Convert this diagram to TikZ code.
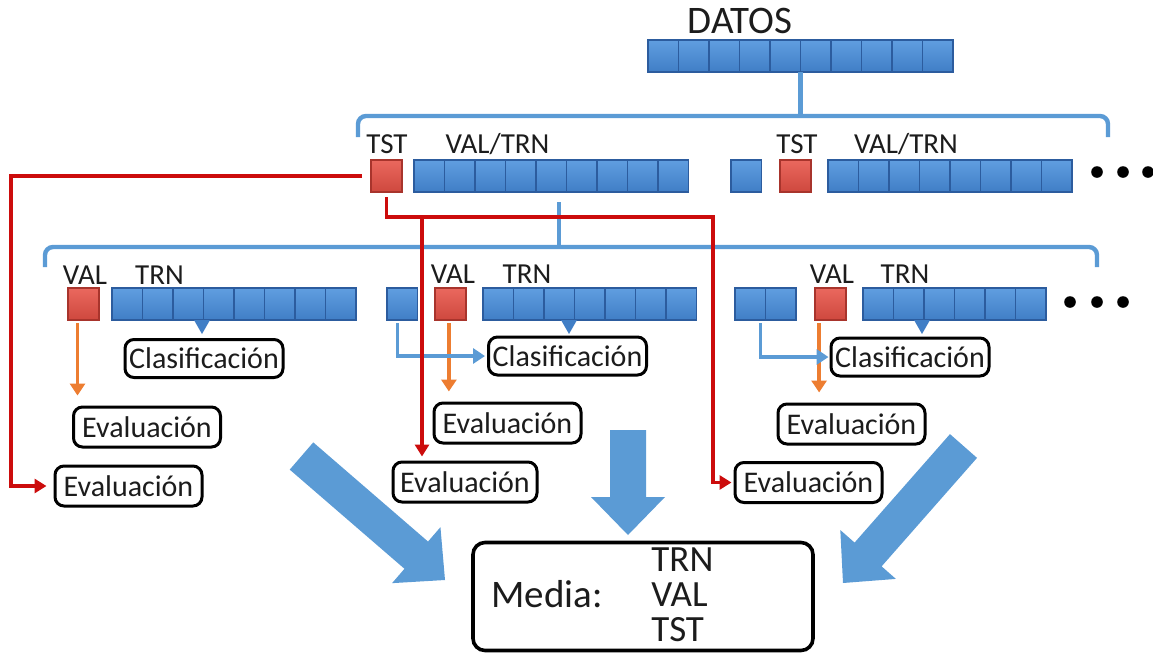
\documentclass[tikz,border=0pt]{standalone}
\usepackage{fontspec}
\setmainfont{Carlito}
\usetikzlibrary{calc,arrows.meta}

\definecolor{celltop}{RGB}{96,158,224}
\definecolor{cellbot}{RGB}{64,126,198}
\definecolor{celledge}{RGB}{44,92,158}
\definecolor{redtop}{RGB}{234,104,94}
\definecolor{redbot}{RGB}{206,72,62}
\definecolor{rededge}{RGB}{168,52,44}
\definecolor{bigblue}{RGB}{91,155,213}
\definecolor{redline}{RGB}{204,12,12}
\definecolor{orangeline}{RGB}{237,125,49}
\definecolor{ink}{RGB}{28,28,28}

% a row of n blue cells, named #1, top-left corner at (#2,#3)
\newcommand\cellbar[4]{%
  \node[cellrow, minimum width={#4*15.25pt}] (#1) at (#2,#3) {};
  \ifnum#4>1
    \foreach \k in {2,...,#4}{%
      \draw[celldiv] ($(#1.north west)+({(\k-1)*15.25pt},0)$) -- ($(#1.south west)+({(\k-1)*15.25pt},0)$);}
  \fi}

% wide block arrow from #1 to the tip #2
\newcommand\fatarrow[2]{%
  \coordinate (fh) at ($(#2)!19pt!(#1)$);
  \fill[bigblue] ($(#1)!9pt!90:(#2)$) -- ($(fh)!9pt!90:(#2)$) -- ($(fh)!18.5pt!90:(#2)$) -- (#2)
    -- ($(fh)!18.5pt!-90:(#2)$) -- ($(fh)!9pt!-90:(#2)$) -- ($(#1)!9pt!-90:(#2)$) -- cycle;}

\begin{document}
\begin{tikzpicture}[x=0.5pt,y=-0.5pt,
  cellrow/.style={draw=celledge, line width=0.6pt, top color=celltop, bottom color=cellbot,
    minimum height=16pt, inner sep=0pt, outer sep=0pt, anchor=north west},
  celldiv/.style={draw=celledge, line width=0.6pt},
  redcell/.style={draw=rededge, line width=0.6pt, top color=redtop, bottom color=redbot,
    minimum width=15.5pt, minimum height=16pt, inner sep=0pt, outer sep=0pt, anchor=north west},
  lbl/.style={text=ink, inner sep=0pt, anchor=base, font=\fontsize{14.5}{16}\selectfont},
  stepbox/.style={draw=black, line width=1.5pt, rounded corners=4.5pt, fill=white, text=ink,
    inner sep=0pt, font=\fontsize{15}{17}\selectfont},
  clbox/.style={stepbox, minimum width=79pt, minimum height=19pt},
  evbox/.style={stepbox, minimum width=73.5pt, minimum height=20pt},
  bracket/.style={draw=bigblue, line width=2.2pt, rounded corners=4pt},
  rarrow/.style={draw=redline, line width=1.8pt, -{Triangle[length=6pt,width=7pt]}},
  oarrow/.style={draw=orangeline, line width=1.7pt, -{Triangle[length=6pt,width=7.5pt]}},
  barrow/.style={draw=bigblue, line width=1.7pt, -{Triangle[length=6pt,width=7.5pt]}},
  dot/.style={fill=black}
]
\useasboundingbox (0,0) rectangle (1153,654);

% ---------- full data set ----------
\node[lbl, font=\fontsize{19.5}{22}\selectfont] (datoslbl) at (740,33) {DATOS};
\cellbar{datos}{648}{40}{10}
\draw[bracket] (358,137) -- (358,116) -- (1108,116) -- (1108,137);
\draw[bracket, rounded corners=0pt] (datos.south) -- ++(0,44);

% ---------- outer folds ----------
\node[redcell] (tst1) at (371,160) {};
\cellbar{vt1}{414}{160}{9}
\cellbar{pre1}{731}{160}{1}
\node[redcell] (tst2) at (780,160) {};
\cellbar{vt2}{828}{160}{8}
\node[lbl] (tstlbl1) at (387,153) {TST};
\node[lbl] (vtlbl1) at (497.5,153) {VAL/TRN};
\node[lbl] (tstlbl2) at (797,153) {TST};
\node[lbl] (vtlbl2) at (906,153) {VAL/TRN};
\foreach \dx in {1097,1123,1148} \fill[dot] (\dx,172) circle (2.9pt);

\draw[bracket] (45,267) -- (45,247) -- (1097,247) -- (1097,267);
\draw[bracket, rounded corners=0pt] (559,202) -- (559,247);

% ---------- inner folds ----------
\node[redcell] (val1) at (68,288) {};
\cellbar{trn1}{112}{288}{8}
\cellbar{pre2}{387}{288}{1}
\node[redcell] (val2) at (435,288) {};
\cellbar{trn2}{483}{288}{7}
\cellbar{pre3}{735}{288}{2}
\node[redcell] (val3) at (815,288) {};
\cellbar{trn3}{863}{288}{6}
\node[lbl] (vallbl1) at (85,284) {VAL};
\node[lbl] (trnlbl1) at (159.5,284) {TRN};
\node[lbl] (vallbl2) at (453,283) {VAL};
\node[lbl] (trnlbl2) at (527,283) {TRN};
\node[lbl] (vallbl3) at (832,283) {VAL};
\node[lbl] (trnlbl3) at (905,283) {TRN};
\foreach \dx in {1070,1097,1123} \fill[dot] (\dx,302) circle (2.9pt);

% small pointers under the training cells
\foreach \px in {202,569,922} \fill[cellbot] (\px-8,320) -- (\px+8,320) -- (\px,334) -- cycle;

% ---------- classification and evaluation ----------
\node[clbox] (cl1) at (204,358.5) {Clasificación};
\node[clbox] (cl2) at (567.5,356) {Clasificación};
\node[clbox] (cl3) at (910,357) {Clasificación};

\node[evbox] (ev1) at (147,427) {Evaluación};
\node[evbox] (ev2) at (507.5,423) {Evaluación};
\node[evbox] (ev3) at (851.5,424) {Evaluación};
\node[evbox] (evL) at (128.5,486) {Evaluación};
\node[evbox, minimum width=72pt] (evM) at (465,482) {Evaluación};
\node[evbox] (evR) at (808.5,482.5) {Evaluación};

% validation cells to their evaluation
\coordinate (o1) at ([xshift=-3pt]val1.south);
\coordinate (o2) at ([xshift=-0.8pt]val2.south);
\coordinate (o3) at ([xshift=-5.7pt]val3.south);
\draw[oarrow, shorten <=1.5pt, shorten >=5pt] (o1) -- (o1 |- ev1.north);
\draw[oarrow, shorten <=1.5pt, shorten >=5pt] (o2) -- (o2 |- ev2.north);
\draw[oarrow, shorten <=1.5pt, shorten >=5pt] (o3) -- (o3 |- ev3.north);

% leading training cells joining the classifier
\coordinate (p2) at ([xshift=-2.5pt]pre2.south);
\coordinate (p3) at ([xshift=-2.5pt]pre3.south);
\draw[barrow, shorten <=1.5pt, shorten >=1pt] (p2) |- (cl2.west);
\draw[barrow, shorten <=1.5pt, shorten >=0.5pt] (p3) |- (cl3.west);

% test cell to the final evaluations
\coordinate (rl) at (11,300);
\coordinate (rj) at (422,217);
\coordinate (rk) at (713,217);
\draw[rarrow, shorten <=4.5pt, shorten >=3.5pt] (tst1.west) -| (rl) |- (evL.west);
\draw[rarrow, shorten <=2.5pt, shorten >=1pt] (tst1.south) |- (rk) |- (evR.west);
\draw[rarrow, shorten >=2pt] (rj) -- (rj |- evM.north);

% ---------- averaging ----------
\coordinate (fa1s) at (301.5,456); \coordinate (fa1t) at (445,580);
\coordinate (fa2s) at (628,430);   \coordinate (fa2t) at (628,535);
\coordinate (fa3s) at (963.5,446); \coordinate (fa3t) at (843,583);
\fatarrow{fa1s}{fa1t}
\fatarrow{fa2s}{fa2t}
\fatarrow{fa3s}{fa3t}

\node[draw=black, line width=1.8pt, rounded corners=6pt, minimum width=170pt, minimum height=54pt,
  inner sep=0pt] (media) at (643,596.5) {};
\node[lbl, anchor=base west, font=\fontsize{19.5}{22}\selectfont] (medlbl) at (491,607) {Media:};
\node[lbl, anchor=north west, align=left, font=\fontsize{18.5}{17.5}\selectfont] (mlist) at (651,547)
  {TRN\\VAL\\TST};
\end{tikzpicture}
\end{document}
